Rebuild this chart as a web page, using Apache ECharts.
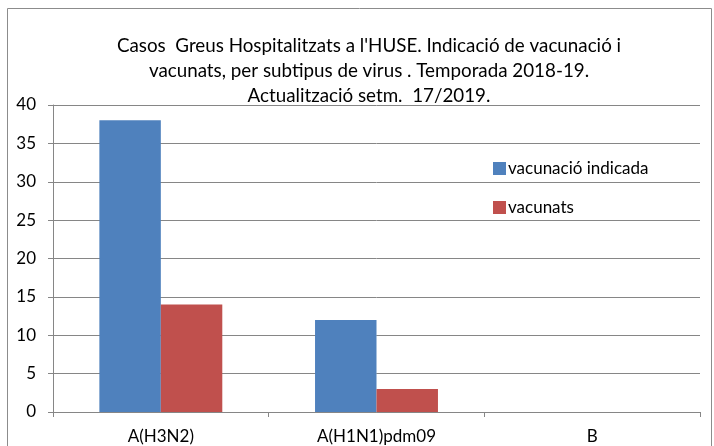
<!DOCTYPE html>
<html>
<head>
<meta charset="utf-8">
<script src="https://cdn.jsdelivr.net/npm/echarts@6/dist/echarts.min.js"></script>
<style>
  html, body { margin: 0; padding: 0; background: #fff; }
  #chart { width: 714px; height: 446px; }
</style>
</head>
<body>
<div id="chart"></div>
<script>
// dades llegides del gràfic
const categories = ['A(H3N2)', 'A(H1N1)pdm09', 'B'];
const vacunacioIndicada = [38, 12, 0];
const vacunats = [14, 3, 0];
const yTicks = [0, 5, 10, 15, 20, 25, 30, 35, 40];

const font = "Lato, 'Liberation Sans', sans-serif";
const chart = echarts.init(document.getElementById('chart'));

chart.setOption({
  animation: false,
  textStyle: { fontFamily: font },
  title: {
    text: "Casos  Greus Hospitalitzats a l'HUSE. Indicació de vacunació i\nvacunats, per subtipus de virus . Temporada 2018-19.\nActualització setm.  17/2019.",
    left: 364, top: 28, textAlign: 'center',
    textStyle: { fontFamily: font, fontSize: 18.8, fontWeight: 'normal', color: '#000', lineHeight: 25 }
  },
  legend: {
    orient: 'vertical',
    left: 488, top: 155,
    itemWidth: 13, itemHeight: 13, itemGap: 22,
    icon: 'rect',
    textStyle: { fontFamily: font, fontSize: 17, color: '#000', padding: [0, 0, 0, -3] },
    data: ['vacunació indicada', 'vacunats']
  },
  graphic: [{
    type: 'rect', silent: true, z: -1,
    shape: { x: 7.5, y: 8.5, width: 704, height: 460 },
    style: { fill: 'none', stroke: '#8c8c8c', lineWidth: 1 }
  }],
  grid: { left: 53, right: 14, top: 105, bottom: 34 },
  xAxis: {
    type: 'category',
    data: categories,
    axisLine: { lineStyle: { color: '#868686' } },
    axisTick: { show: true, length: 5, lineStyle: { color: '#868686' } },
    axisLabel: { color: '#000', fontSize: 17, fontFamily: font, margin: 16 }
  },
  yAxis: {
    type: 'value',
    min: yTicks[0], max: yTicks[yTicks.length - 1], interval: 5,
    axisLine: { show: true, lineStyle: { color: '#868686' } },
    axisTick: { show: true, length: 5, lineStyle: { color: '#868686' } },
    splitLine: { lineStyle: { color: '#868686' } },
    axisLabel: { color: '#000', fontSize: 17, fontFamily: font, margin: 17 }
  },
  series: [
    {
      name: 'vacunació indicada', type: 'bar', data: vacunacioIndicada,
      itemStyle: { color: '#4f81bd' },
      barGap: '0%', barCategoryGap: '43%'
    },
    {
      name: 'vacunats', type: 'bar', data: vacunats,
      itemStyle: { color: '#c0504d' },
      barGap: '0%', barCategoryGap: '43%'
    }
  ]
});
</script>
</body>
</html>
